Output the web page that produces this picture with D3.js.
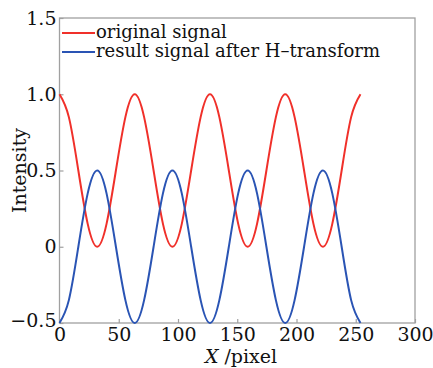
<!DOCTYPE html>
<html>
<head>
<meta charset="utf-8">
<script src="https://cdn.jsdelivr.net/npm/d3@7"></script>
<style>
  html, body { margin: 0; padding: 0; background: #fff; }
  svg text { font-family: "DejaVu Serif", "Liberation Serif", serif; fill: #111; }
</style>
</head>
<body>
<svg id="chart" width="433" height="368"></svg>
<script>
// Sample positions along the scan line (pixel index)
const xPixels = [0, 7.9, 15.9, 23.8, 31.8, 39.7, 47.6, 55.6, 63.5, 71.4, 79.4, 87.3, 95.3, 103.2, 111.1, 119.1,
  127, 134.9, 142.9, 150.8, 158.8, 166.7, 174.6, 182.6, 190.5, 198.4, 206.4, 214.3, 222.3, 230.2, 238.1, 246.1, 254];
// Intensity of the original signal
const originalSignal = [1, 0.85, 0.5, 0.15, 0, 0.15, 0.5, 0.85, 1, 0.85, 0.5, 0.15, 0, 0.15, 0.5, 0.85,
  1, 0.85, 0.5, 0.15, 0, 0.15, 0.5, 0.85, 1, 0.85, 0.5, 0.15, 0, 0.15, 0.5, 0.85, 1];
// Intensity after the Hilbert transform
const transformedSignal = [-0.5, -0.35, 0, 0.35, 0.5, 0.35, 0, -0.35, -0.5, -0.35, 0, 0.35, 0.5, 0.35, 0, -0.35,
  -0.5, -0.35, 0, 0.35, 0.5, 0.35, 0, -0.35, -0.5, -0.35, 0, 0.35, 0.5, 0.35, 0, -0.35, -0.5];

const xTicks = [0, 50, 100, 150, 200, 250, 300];
const yTicks = [-0.5, 0, 0.5, 1.0, 1.5];
const yTickLabels = ["\u22120.5", "0", "0.5", "1.0", "1.5"];
const seriesNames = ["original signal", "result signal after H\u2013transform"];
const seriesColors = ["#f0302a", "#2a54b4"];

const svg = d3.select("#chart");
const m = { left: 59.5, right: 415, top: 18, bottom: 323 };
const tickFont = "Liberation Serif";

const x = d3.scaleLinear().domain([0, 300]).range([m.left, m.right]);
const y = d3.scaleLinear().domain([-0.5, 1.5]).range([m.bottom, m.top]);

// frame
svg.append("rect")
  .attr("x", m.left).attr("y", m.top)
  .attr("width", m.right - m.left).attr("height", m.bottom - m.top)
  .attr("fill", "none").attr("stroke", "#a0a0a0").attr("stroke-width", 1.3);

// bottom axis with inward ticks
const xAxis = svg.append("g")
  .attr("transform", `translate(0,${m.bottom})`)
  .call(d3.axisBottom(x).tickValues(xTicks).tickSizeInner(-4).tickSizeOuter(0).tickPadding(4));
xAxis.select(".domain").remove();
xAxis.selectAll("line").attr("stroke", "#a0a0a0").attr("stroke-width", 1.2);
xAxis.selectAll("text").attr("font-size", 19).attr("fill", "#111").attr("font-family", tickFont);

// left axis with inward ticks
const yAxis = svg.append("g")
  .attr("transform", `translate(${m.left},0)`)
  .call(d3.axisLeft(y).tickValues(yTicks).tickFormat((d, i) => yTickLabels[i])
    .tickSizeInner(-4).tickSizeOuter(0).tickPadding(3));
yAxis.select(".domain").remove();
yAxis.selectAll("line").attr("stroke", "#a0a0a0").attr("stroke-width", 1.2);
yAxis.selectAll("text").attr("font-size", 19).attr("fill", "#111").attr("font-family", tickFont);
// lift the lowest label a little so it clears the "0" of the x axis
yAxis.selectAll("text").filter(d => d === -0.5).attr("dy", "0.2em");

// series
const series = [originalSignal, transformedSignal];
const line = d3.line()
  .x(d => x(d[0]))
  .y(d => y(d[1]))
  .curve(d3.curveNatural);

series.forEach((vals, k) => {
  svg.append("path")
    .datum(xPixels.map((xv, i) => [xv, vals[i]]))
    .attr("fill", "none")
    .attr("stroke", seriesColors[k])
    .attr("stroke-width", 2)
    .attr("d", line);
});

// legend
const legend = svg.append("g");
seriesNames.forEach((name, k) => {
  const ly = 33 + k * 19;
  legend.append("line")
    .attr("x1", 62).attr("x2", 95).attr("y1", ly).attr("y2", ly)
    .attr("stroke", seriesColors[k]).attr("stroke-width", 2);
  legend.append("text")
    .attr("x", 96).attr("y", ly + 5)
    .attr("font-size", 18)
    .text(name);
});

// axis titles
const xTitle = svg.append("text")
  .attr("x", 241).attr("y", 363)
  .attr("text-anchor", "middle").attr("font-size", 19);
xTitle.append("tspan").attr("font-style", "italic").text("X");
xTitle.append("tspan").text(" /pixel");

svg.append("text")
  .attr("transform", `translate(26,${(m.top + m.bottom) / 2}) rotate(-90)`)
  .attr("text-anchor", "middle").attr("font-size", 19)
  .text("Intensity");
</script>
</body>
</html>
